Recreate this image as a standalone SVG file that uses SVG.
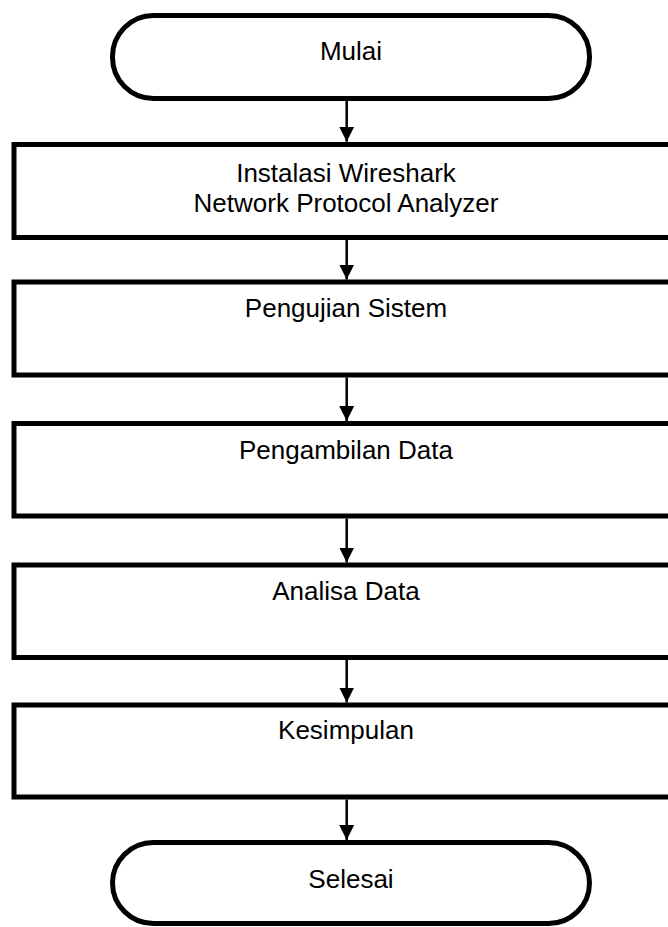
<svg xmlns="http://www.w3.org/2000/svg" width="668" height="927" viewBox="0 0 668 927">
<defs>
<style>
.shape{fill:#fff;stroke:#000;stroke-width:5}
.lbl{font-family:"Liberation Sans",Arial,sans-serif;font-size:26px;fill:#000;text-anchor:middle}
.conn line{stroke:#000;stroke-width:2.5}
</style>
<marker id="ah" markerUnits="userSpaceOnUse" markerWidth="16" markerHeight="16" viewBox="0 0 16 16" refX="15" refY="8" orient="auto">
<path d="M0,0.5 L15,8 L0,15.5 Z" fill="#000"/>
</marker>
</defs>
<rect width="668" height="927" fill="#fff"/>
<g id="mulai">
<rect class="shape" x="112.5" y="15.5" width="477" height="83" rx="41" ry="41"/>
<text class="lbl" x="351" y="60">Mulai</text>
</g>
<g id="instalasi">
<rect class="shape" x="14" y="144.5" width="680" height="93"/>
<text class="lbl" x="346" y="182.3">Instalasi Wireshark</text>
<text class="lbl" x="346" y="211.7">Network Protocol Analyzer</text>
</g>
<g id="pengujian">
<rect class="shape" x="14" y="282" width="680" height="93"/>
<text class="lbl" x="346" y="317.3">Pengujian Sistem</text>
</g>
<g id="pengambilan">
<rect class="shape" x="14" y="423.5" width="680" height="92.5"/>
<text class="lbl" x="346" y="458.5">Pengambilan Data</text>
</g>
<g id="analisa">
<rect class="shape" x="14" y="565" width="680" height="92.5"/>
<text class="lbl" x="346" y="600">Analisa Data</text>
</g>
<g id="kesimpulan">
<rect class="shape" x="14" y="705" width="680" height="92"/>
<text class="lbl" x="346" y="739.3">Kesimpulan</text>
</g>
<g id="selesai">
<rect class="shape" x="112.5" y="842.5" width="477" height="81" rx="41" ry="41"/>
<text class="lbl" x="351" y="888">Selesai</text>
</g>
<g id="connectors" class="conn">
<line x1="346.7" y1="101" x2="346.7" y2="141.7" marker-end="url(#ah)"/>
<line x1="346.7" y1="240" x2="346.7" y2="279.5" marker-end="url(#ah)"/>
<line x1="346.7" y1="377.5" x2="346.7" y2="421" marker-end="url(#ah)"/>
<line x1="346.7" y1="518.5" x2="346.7" y2="562.5" marker-end="url(#ah)"/>
<line x1="346.7" y1="660" x2="346.7" y2="702.5" marker-end="url(#ah)"/>
<line x1="346.7" y1="799.5" x2="346.7" y2="840" marker-end="url(#ah)"/>
</g>
</svg>
